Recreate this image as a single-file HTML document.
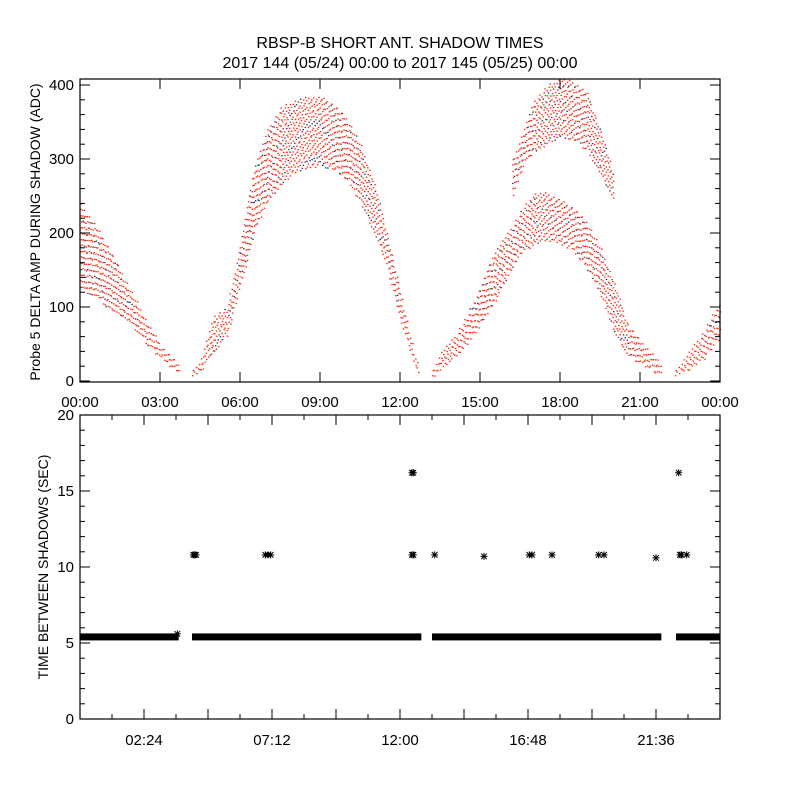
<!DOCTYPE html>
<html><head><meta charset="utf-8"><style>
html,body{margin:0;padding:0;background:#fff}
svg text{font-family:"Liberation Sans",sans-serif;fill:#000}
</style></head><body>
<svg id="c" width="800" height="800" xmlns="http://www.w3.org/2000/svg">
<rect width="800" height="800" fill="#fff"/>
<text x="400" y="48" text-anchor="middle" font-size="16">RBSP-B SHORT ANT. SHADOW TIMES</text>
<text x="400" y="68" text-anchor="middle" font-size="16">2017 144 (05/24) 00:00 to 2017 145 (05/25) 00:00</text>
<g id="topPanel"></g>
<g id="botPanel"></g>
</svg>
<script>
// ---- top panel data: band envelopes (hours, low ADC, high ADC) ----
const bandTimes = [
 [0,0.5,1,1.5,2,2.5,3,3.5,3.75],
 [4.2,4.5,5,5.5,6,6.5,7,7.5,8,8.5,9,9.5,10,10.5,11,11.5,12,12.5,12.7],
 [13.2,13.5,14,14.5,15,15.5,16,16.5,17,17.5,18,18.5,19,19.5,20,20.5,21,21.5,21.8],
 [16.2,16.6,17,17.5,18,18.5,19,19.5,20],
 [22.3,22.8,23.4,24]
];
const bandLow = [
 [125,112,100,88,70,48,30,15,10],
 [5,10,40,60,130,200,240,265,280,288,290,285,270,240,200,150,80,20,5],
 [5,15,30,50,75,105,140,170,185,190,185,175,150,115,65,35,22,12,5],
 [250,290,310,320,330,325,310,280,240],
 [5,15,30,60]
];
const bandHigh = [
 [240,215,185,150,115,80,50,30,20],
 [15,30,90,100,190,290,340,370,380,385,385,375,355,320,270,200,120,40,15],
 [15,40,60,90,130,175,200,230,255,255,245,235,215,180,135,80,55,35,20],
 [300,340,380,400,410,405,390,340,280],
 [15,40,70,110]
];
// ---- bottom panel data ----
const lineVal = 5.4;
const lineStart = [0,4.2,13.2,22.35];
const lineEnd = [3.7,12.8,21.8,24];
const starTimes = [3.65,4.25,4.3,4.35,6.95,7.05,7.15,12.45,12.5,12.45,12.5,13.3,15.15,16.85,16.95,17.7,19.45,19.65,21.6,22.45,22.5,22.55,22.75];
const starVals = [5.6,10.8,10.8,10.8,10.8,10.8,10.8,16.2,16.2,10.8,10.8,10.8,10.7,10.8,10.8,10.8,10.8,10.8,10.6,16.2,10.8,10.8,10.8];
const topYTicks=[0,100,200,300,400];
const topXLabels=["00:00","03:00","06:00","09:00","12:00","15:00","18:00","21:00","00:00"];
const botYTicks=[0,5,10,15,20];
const botXLabels=["02:24","07:12","12:00","16:48","21:36"];

const NS="http://www.w3.org/2000/svg";
const X0=80,X1=720;
const xs=h=>X0+(X1-X0)*h/24;
const ysTop=v=>381-v*0.74;
const ysBot=v=>719-v*(304/20);
function mk(p,tag,at){const e=document.createElementNS(NS,tag);for(const k in at)e.setAttribute(k,at[k]);p.appendChild(e);return e;}
const topG=document.getElementById('topPanel'),botG=document.getElementById('botPanel');

function interp(ts,vs,t){for(let i=0;i<ts.length-1;i++){if(t>=ts[i]&&t<=ts[i+1]){const f=(t-ts[i])/(ts[i+1]-ts[i]);return vs[i]+f*(vs[i+1]-vs[i]);}}return null;}

const dotG=mk(topG,'g',{});


let cnt=0;
for(let b=0;b<bandTimes.length;b++){
 const ts=bandTimes[b];
 let col=0;
 for(let px=xs(ts[0]);px<=xs(ts[ts.length-1]);px+=1.7){
  const t=(px-X0)*24/(X1-X0);
  const lo=interp(ts,bandLow[b],t),hi=interp(ts,bandHigh[b],t);
  if(lo===null)continue;
  const y1=ysTop(hi),y2=ysTop(lo);
  const off=((col*7)%11)*0.55;col++;
  let k=0;
  for(let py=y1+off;py<=y2;py+=5.2+((k*3+col)%4)*0.5){
   k++;cnt++;
   const dark=(cnt%6===0)&&(y2-y1>30);
   mk(dotG,'rect',{x:(px+((k+col)%3)*0.4).toFixed(1),y:py.toFixed(1),width:1.5,height:1.3,fill:dark?'#303a60':'#ff2a10'});
  }
 }
}
function frame(g,y0,y1){mk(g,'rect',{x:X0,y:y0,width:X1-X0,height:y1-y0,fill:'none',stroke:'#000','stroke-width':1.2});}
frame(topG,79,382);
for(let v=0;v<=400;v+=20){const y=ysTop(v),L=(v%100===0)?10:5;mk(topG,'line',{x1:X0,x2:X0+L,y1:y,y2:y,stroke:'#000'});mk(topG,'line',{x1:X1,x2:X1-L,y1:y,y2:y,stroke:'#000'});}
topYTicks.forEach(v=>{const t=mk(topG,'text',{x:74,y:ysTop(v)+5,'text-anchor':'end','font-size':15});t.textContent=v;});
topXLabels.forEach((s,i)=>{const x=xs(i*3);mk(topG,'line',{x1:x,x2:x,y1:382,y2:372,stroke:'#000'});mk(topG,'line',{x1:x,x2:x,y1:79,y2:89,stroke:'#000'});const t=mk(topG,'text',{x:x,y:407,'text-anchor':'middle','font-size':15});t.textContent=s;});
const yt=mk(topG,'text',{x:0,y:0,'text-anchor':'middle','font-size':14,transform:'translate(40,232) rotate(-90)'});yt.textContent='Probe 5 DELTA AMP DURING SHADOW (ADC)';

frame(botG,415,719);
for(let v=0;v<=20;v++){const y=ysBot(v),L=(v%5===0)?10:5;mk(botG,'line',{x1:X0,x2:X0+L,y1:y,y2:y,stroke:'#000'});mk(botG,'line',{x1:X1,x2:X1-L,y1:y,y2:y,stroke:'#000'});}
for(let k=1;k<20;k++){const h=k*1.2,x=xs(h),L=(k%2===0)?10:5;mk(botG,'line',{x1:x,x2:x,y1:719,y2:719-L,stroke:'#000'});mk(botG,'line',{x1:x,x2:x,y1:415,y2:415+L,stroke:'#000'});}
botYTicks.forEach(v=>{const t=mk(botG,'text',{x:74,y:ysBot(v)+5,'text-anchor':'end','font-size':15});t.textContent=v;});
botXLabels.forEach((s,i)=>{const t=mk(botG,'text',{x:xs(2.4+i*4.8),y:745,'text-anchor':'middle','font-size':15});t.textContent=s;});
const bt=mk(botG,'text',{x:0,y:0,'text-anchor':'middle','font-size':14,transform:'translate(48,567) rotate(-90)'});bt.textContent='TIME BETWEEN SHADOWS (SEC)';
const sg=mk(botG,'g',{});


function star(x,y){const s=3.5,d='M'+(x-s)+' '+y+'H'+(x+s)+'M'+x+' '+(y-s)+'V'+(y+s)+'M'+(x-s*0.8)+' '+(y-s*0.8)+'L'+(x+s*0.8)+' '+(y+s*0.8)+'M'+(x-s*0.8)+' '+(y+s*0.8)+'L'+(x+s*0.8)+' '+(y-s*0.8);mk(sg,'path',{d:d,stroke:'#000','stroke-width':1,fill:'none'});}
for(let i=0;i<lineStart.length;i++){
 const y=ysBot(lineVal);
 mk(sg,'rect',{x:xs(lineStart[i]),y:y-3.5,width:xs(lineEnd[i])-xs(lineStart[i]),height:7,fill:'#000'});
}
starTimes.forEach((t,i)=>star(xs(t),ysBot(starVals[i])));
</script>
</body></html>
